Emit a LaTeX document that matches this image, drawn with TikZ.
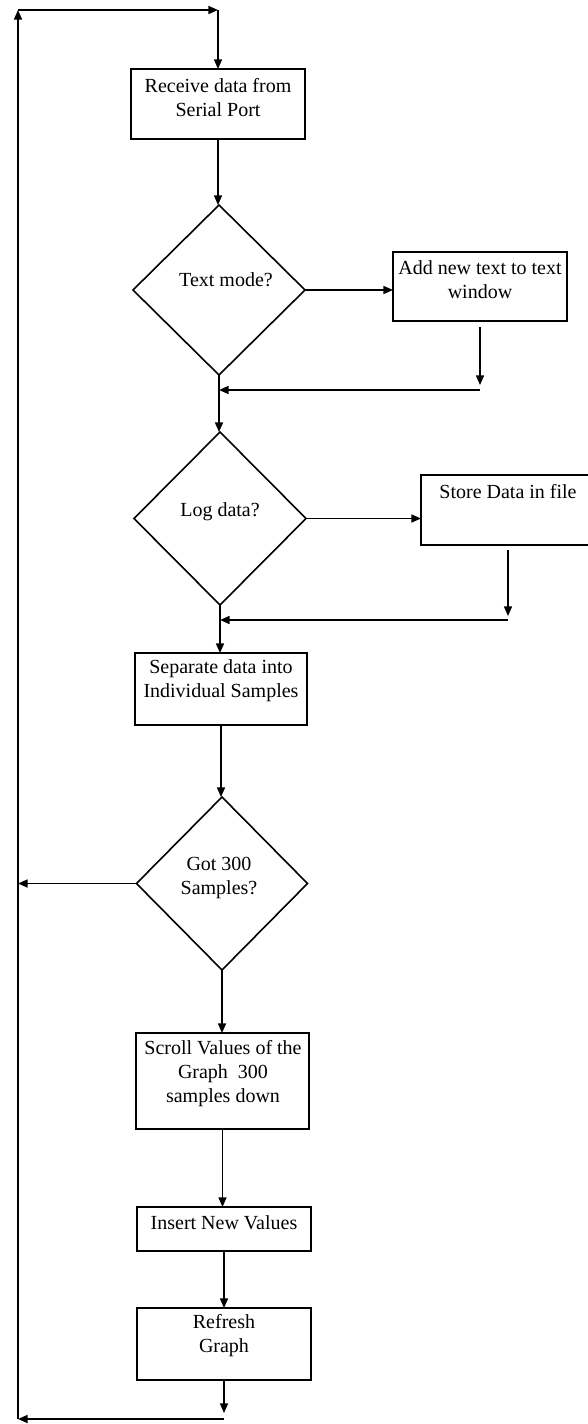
\documentclass[tikz,border=0pt]{standalone}
\usepackage{fontspec}
\setmainfont{Liberation Serif}
\usetikzlibrary{shapes.geometric,arrows.meta}
\begin{document}
\begin{tikzpicture}[x=0.5pt,y=-0.5pt,
  line width=0.8pt,
  arr/.style={-{Triangle[length=4.8pt,width=4pt]}},
  boxnode/.style={draw,rectangle,inner sep=0pt,outer sep=0pt},
  dianode/.style={draw,diamond,inner sep=0pt,outer sep=0pt},
  txt/.style={inner sep=0pt,align=center,font=\fontsize{10pt}{12pt}\selectfont}]
\useasboundingbox (0,0) rectangle (588,1424);
% boxes and decisions
\node[boxnode,minimum width=87pt,minimum height=35pt] (b1) at (218,104) {};
\node[dianode,minimum width=86pt,minimum height=85pt] (d1) at (219,290) {};
\node[boxnode,minimum width=87pt,minimum height=34.5pt] (b2) at (480,286.5) {};
\node[dianode,minimum width=86pt,minimum height=86.5pt] (d2) at (220,518.5) {};
\node[boxnode,minimum width=87pt,minimum height=35pt] (b3) at (508,510) {};
\node[boxnode,minimum width=86pt,minimum height=36pt] (b4) at (221,689) {};
\node[dianode,minimum width=85.5pt,minimum height=86.5pt] (d3) at (222,883.5) {};
\node[boxnode,minimum width=86.5pt,minimum height=48pt] (b5) at (222.5,1081) {};
\node[boxnode,minimum width=87pt,minimum height=22pt] (b6) at (224,1229) {};
\node[boxnode,minimum width=87pt,minimum height=36pt] (b7) at (224,1344) {};
% texts
\node[txt] (t1) at (218,98) {Receive data from\\Serial Port};
\node[txt] (td1) at (226,280) {Text mode?};
\node[txt] (t2) at (480,279.5) {Add new text to text\\window};
\node[txt] (td2) at (220,512) {Log data?};
\node[txt] (t3) at (508,492) {Store Data in file};
\node[txt] (t4) at (221,681) {Separate data into\\Individual Samples};
\node[txt] (td3) at (219,878) {Got 300\\Samples?};
\node[txt] (t5) at (223,1073.5) {Scroll Values of the\\Graph~~300\\samples down};
\node[txt] (t6) at (224,1223) {Insert New Values};
\node[txt] (t7) at (224,1335.5) {Refresh\\Graph};
% junction coordinates
\coordinate (j1r) at (480,390);
\coordinate (j1) at (219,390);
\coordinate (j2r) at (508,620);
\coordinate (j2) at (220,620);
\coordinate (cBR) at (224,1419);
\coordinate (cBL) at (18,1419);
\coordinate (cTL) at (18,10);
\coordinate (cTR) at (218,10);
\coordinate (cML) at (18,885);
\coordinate (b2s) at (480,327);
\coordinate (b3s) at (508,550);
% connectors
\draw[arr] (b1.south) -- (b1.south |- d1.north);
\draw[arr] (d1.east) -- (d1.east -| b2.west);
\draw[arr] (b2s) -- ([yshift=2.5pt]j1r);
\draw[arr] (j1r) -- (j1);
\draw[arr] (d1.south) -- (d1.south |- d2.north);
\draw[arr] (d2.east) -- (d2.east -| b3.west);
\draw[arr] (b3s) -- ([yshift=2pt]j2r);
\draw[arr] (j2r) -- (j2);
\draw[arr] (d2.south) -- (d2.south |- b4.north);
\draw[arr] (b4.south) -- (b4.south |- d3.north);
\draw[arr] (d3.west) -- (d3.west -| cML);
\draw[arr] (d3.south) -- (d3.south |- b5.north);
\draw[arr] (b5.south) -- (b5.south |- b6.north);
\draw[arr] (b6.south) -- (b7.north);
\draw[arr] (b7.south) -- ([yshift=3pt]cBR);
\draw[arr] (cBR) -- (cBL);
\draw[arr] (cBL) -- (cTL);
\draw[arr] (cTL) -- (cTR);
\draw[arr] (cTR) -- (b1.north);
\end{tikzpicture}
\end{document}
